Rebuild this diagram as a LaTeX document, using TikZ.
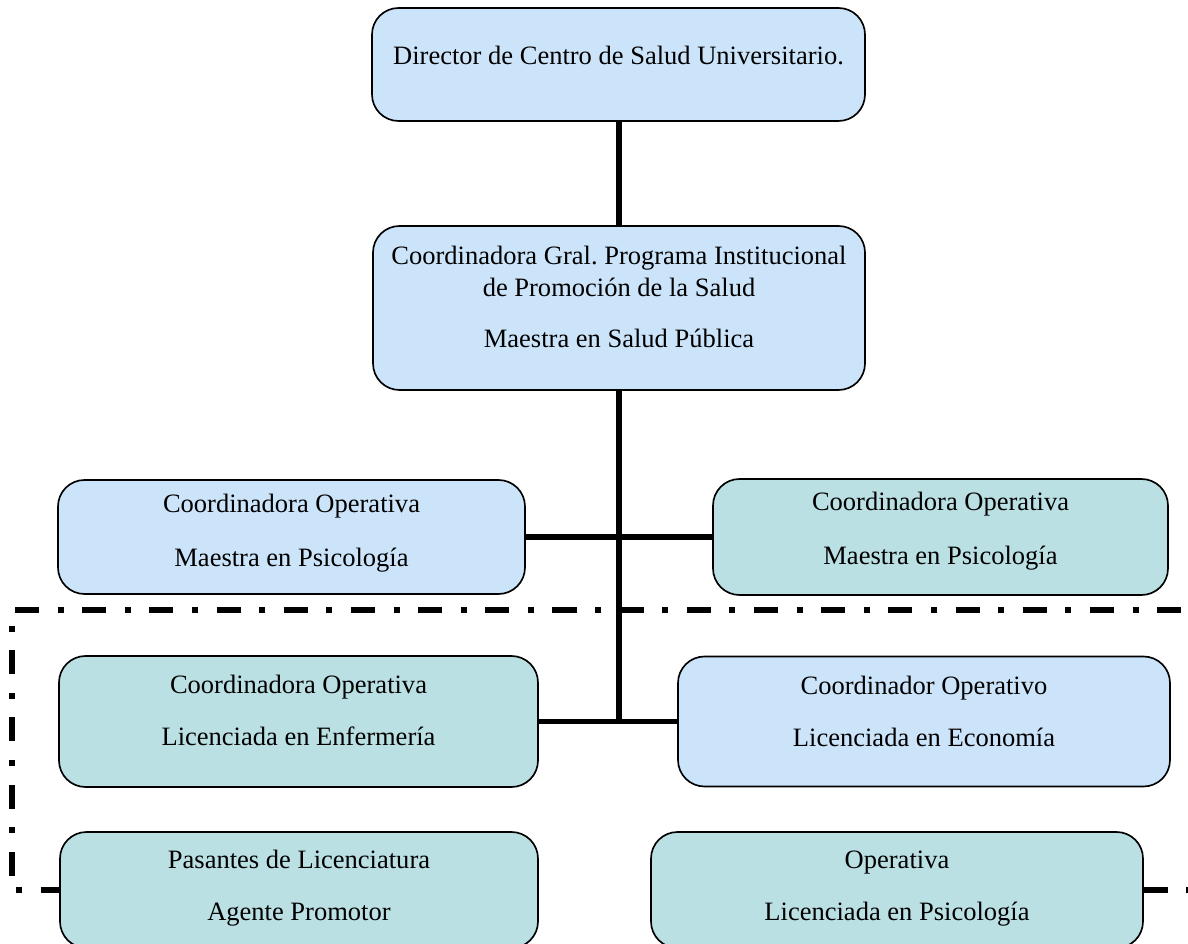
\documentclass[tikz,border=0pt]{standalone}
\usepackage{fontspec}
\setmainfont{Liberation Serif}
\definecolor{cajaazul}{RGB}{204,228,250}
\definecolor{cajaverde}{RGB}{187,224,227}
\newcommand{\px}{0.4525pt}
\tikzset{
	caja/.style={draw=black, line width=0.75pt, rounded corners=12pt, align=center, inner sep=0pt,
		font=\fontsize{12}{14.5}\selectfont},
	azul/.style={caja, fill=cajaazul},
	verde/.style={caja, fill=cajaverde},
	linea/.style={line width=2.3pt},
	punteada/.style={line width=2.3pt, dash pattern=on 10.9pt off 8.4pt on 2.7pt off 8.4pt}
}
\begin{document}
\begin{tikzpicture}[x=\px, y=-\px]
		\useasboundingbox (0,0) rectangle (1188,944);

		\node[azul, minimum width={493*\px}, minimum height={113*\px}, text depth=8pt] (dir) at (618.5,64.5) {Director de Centro de Salud Universitario.};
		\node[azul, minimum width={492*\px}, minimum height={164*\px}, text depth=10pt] (gral) at (619,308)
			{Coordinadora Gral.\ Programa Institucional\\de Promoción de la Salud\\[8.6pt]Maestra en Salud Pública};

		\node[azul, minimum width={467*\px}, minimum height={114*\px}, text depth=5.8pt] (opizq) at (291.5,537) {Coordinadora Operativa\\[10pt]Maestra en Psicología};
		\node[verde, minimum width={455*\px}, minimum height={116*\px}, text depth=7.6pt] (opder) at (940.5,537) {Coordinadora Operativa\\[10pt]Maestra en Psicología};

		\node[verde, minimum width={479*\px}, minimum height={131*\px}, text depth=10pt] (enf) at (298.5,721.5) {Coordinadora Operativa\\[9pt]Licenciada en Enfermería};
		\node[azul, minimum width={492*\px}, minimum height={130*\px}, text depth=9pt] (eco) at (924,721.5) {Coordinador Operativo\\[9pt]Licenciada en Economía};

		\node[verde, minimum width={478*\px}, minimum height={116*\px}, text depth=4pt] (pas) at (299,890) {Pasantes de Licenciatura\\[9pt]Agente Promotor};
		\node[verde, minimum width={492*\px}, minimum height={116*\px}, text depth=4pt] (ope) at (897,890) {Operativa\\[9pt]Licenciada en Psicología};

		\draw[linea] (gral.north) -- (gral.north |- dir.south);
		\draw[linea] (gral.south) -- (gral.south |- enf.east);
		\draw[linea] (opizq.east) -- (opder.west);
		\draw[linea] (enf.east) -- (eco.west);

		\coordinate (marco1) at (15,610);
		\coordinate (marco2) at (1188,610);
		\coordinate (marco3) at (12,610);
		\coordinate (marco4) at (12,890);
		\coordinate (marco5) at (1188,890);
		\draw[punteada] (marco1) -- (marco2);
		\draw[punteada, dash phase=12.2pt] (marco3) -- (marco4) -- (pas.west);
		\draw[punteada] (ope.east) -- (marco5);
	\end{tikzpicture}
\end{document}
